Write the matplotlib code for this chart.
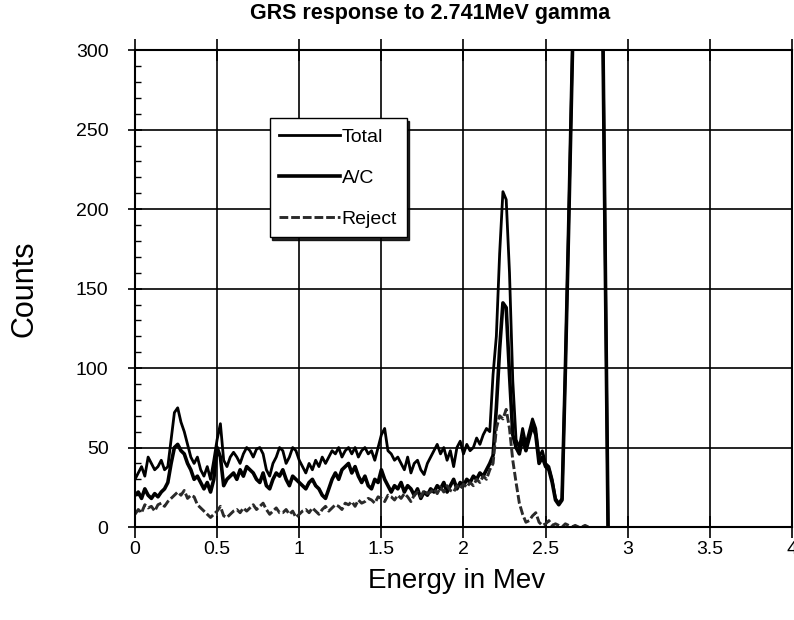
import numpy as np
import matplotlib.pyplot as plt
from matplotlib.ticker import MultipleLocator

plt.rcParams['font.family'] = ['Liberation Sans', 'DejaVu Sans']

# counts per 0.02 MeV channel
total = [
    30, 34, 38, 32, 44, 40, 36, 38, 42, 36,      # 0.00
    38, 55, 72, 75, 66, 60, 52, 44, 40, 44,      # 0.20
    36, 32, 38, 30, 42, 55, 65, 42, 38, 44,      # 0.40
    47, 44, 40, 46, 50, 48, 44, 49, 50, 46,      # 0.60
    36, 32, 40, 44, 50, 48, 40, 44, 50, 48,      # 0.80
    42, 38, 34, 40, 36, 42, 38, 44, 40, 44,      # 1.00
    48, 46, 50, 44, 48, 50, 46, 50, 44, 48,      # 1.20
    50, 46, 48, 42, 50, 58, 62, 48, 46, 42,      # 1.40
    44, 40, 36, 44, 34, 40, 42, 36, 33, 40,      # 1.60
    44, 48, 52, 46, 50, 42, 48, 38, 50, 54,      # 1.80
    46, 52, 48, 50, 56, 52, 58, 62, 60, 96,      # 2.00
    120, 172, 211, 206, 160, 92, 55, 50, 62, 52,  # 2.20
    60, 68, 62, 44, 48, 40, 38, 30, 18, 15,      # 2.40
    18, 100, 190, 285, 380, 520, 700, 820, 760, 640,  # 2.60
    560, 480, 400, 200, 0,                       # 2.80
]
ac = [
    20, 22, 18, 24, 20, 18, 21, 19, 22, 24,
    28, 40, 50, 52, 48, 46, 40, 36, 30, 32,
    28, 24, 28, 22, 30, 50, 44, 26, 30, 32,
    34, 30, 36, 32, 38, 36, 34, 30, 28, 34,
    26, 24, 30, 34, 32, 36, 30, 26, 32, 30,
    28, 26, 24, 28, 30, 26, 24, 20, 18, 24,
    30, 34, 30, 36, 38, 40, 34, 38, 32, 28,
    32, 26, 24, 30, 28, 36, 30, 26, 22, 26,
    24, 28, 22, 26, 24, 20, 24, 18, 22, 20,
    24, 22, 26, 24, 28, 22, 26, 30, 24, 28,
    26, 30, 28, 32, 30, 34, 32, 36, 40, 45,
    75, 112, 141, 138, 96, 58, 50, 46, 56, 48,
    56, 64, 58, 40, 44, 38, 36, 28, 17, 14,
    17, 98, 188, 283, 378, 515, 690, 810, 750, 630,
    550, 470, 395, 198, 0,
]
reject = [
    8, 11, 9, 14, 12, 13, 10, 14, 15, 13,
    16, 18, 20, 22, 20, 23, 18, 20, 19, 14,
    12, 10, 8, 6, 8, 10, 13, 7, 6, 8,
    10, 11, 9, 12, 10, 12, 14, 11, 13, 15,
    11, 8, 10, 12, 9, 9, 11, 8, 10, 6,
    8, 10, 11, 9, 12, 10, 8, 11, 13, 10,
    12, 14, 13, 11, 15, 14, 16, 13, 17, 15,
    16, 18, 17, 15, 19, 18, 16, 20, 19, 17,
    20, 18, 21, 19, 16, 20, 22, 19, 23, 21,
    22, 24, 21, 25, 22, 26, 23, 22, 26, 24,
    27, 25, 28, 26, 30, 28, 32, 30, 36, 40,
    62, 70, 68, 74, 62, 42, 28, 15, 8, 3,
    4, 7, 9, 3, 1, 2, 4, 1, 2, 1,
    0, 2, 1, 0, 1, 0, 0, 1, 0,
]
channel_width = 0.02  # MeV
x_ticks = [0, 0.5, 1, 1.5, 2, 2.5, 3, 3.5, 4]
x_labels = ['0', '0.5', '1', '1.5', '2', '2.5', '3', '3.5', '4']

e_total = np.arange(len(total)) * channel_width
e_ac = np.arange(len(ac)) * channel_width
e_rej = np.arange(len(reject)) * channel_width

fig = plt.figure(figsize=(7.94, 6.2), dpi=100)
ax = fig.add_axes([0.170, 0.150, 0.8275, 0.769])

ax.plot(e_total, total, color='black', lw=2.0, label='Total')
ax.plot(e_ac, ac, color='black', lw=2.6, label='A/C')
ax.plot(e_rej, reject, color='#2a2a2a', lw=2.1, ls=(0, (3, 1)), label='Reject')

ax.set_xlim(0, 4)
ax.set_ylim(0, 300)
ax.set_xticks(x_ticks)
ax.set_xticklabels(x_labels)
ax.yaxis.set_major_locator(MultipleLocator(50))
ax.yaxis.set_minor_locator(MultipleLocator(10))
ax.grid(True, which='major', color='black', lw=1.2)

ax.tick_params(axis='x', which='major', direction='inout', length=16, width=1.2,
               labelsize=14, pad=2, top=True)
ax.tick_params(axis='y', which='major', direction='inout', length=10, width=1.2,
               labelsize=14, pad=14)
ax.tick_params(axis='y', which='minor', direction='in', length=4, width=1)
for s in ax.spines.values():
    s.set_linewidth(1.5)

fig.text(0.5416, 0.979, 'GRS response to 2.741MeV gamma', fontsize=15.5,
         fontweight='bold', ha='center', va='center')
ax.set_xlabel('Energy in Mev', fontsize=20)
ax.xaxis.set_label_coords(0.49, -0.086)
ax.set_ylabel('Counts', fontsize=22)
ax.yaxis.set_label_coords(-0.146, 0.5)

ax.legend(loc='upper left', bbox_to_anchor=(0.205, 0.857), fontsize=14,
          handlelength=3.1, labelspacing=1.2, borderpad=0.5, handletextpad=0.1,
          borderaxespad=0, fancybox=False, edgecolor='black', framealpha=1,
          shadow={'color': 'black', 'alpha': 0.85})

fig.savefig('out.png', dpi=100)
